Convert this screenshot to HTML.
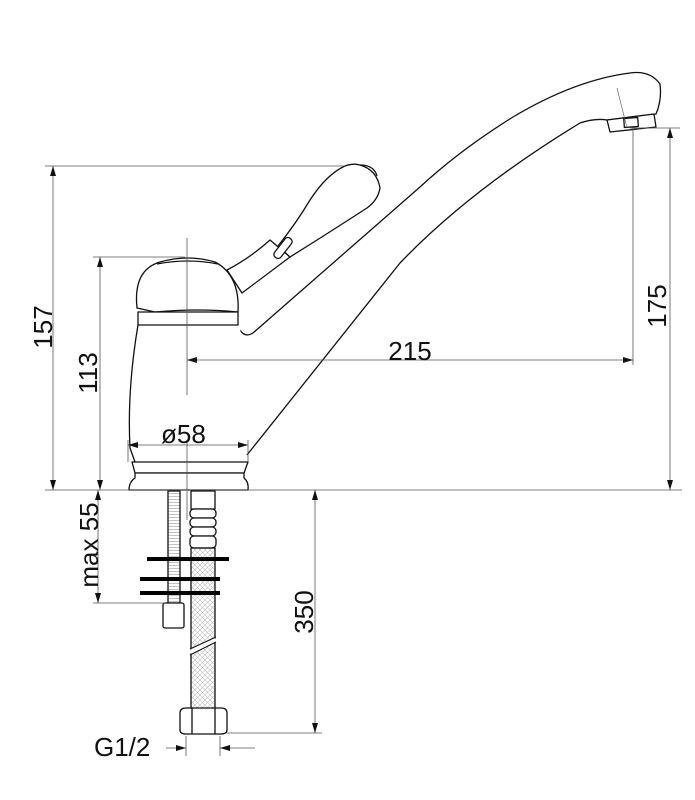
<!DOCTYPE html>
<html><head><meta charset="utf-8"><style>
html,body{margin:0;padding:0;background:#fff;}
svg{display:block;}
text{font-family:"Liberation Sans","DejaVu Sans",sans-serif;fill:#111;}
</style></head><body>
<svg width="695" height="800" viewBox="0 0 695 800" xmlns="http://www.w3.org/2000/svg">
<defs>
<marker id="a" viewBox="0 0 10 6" refX="10" refY="3" markerWidth="11" markerHeight="6" orient="auto-start-reverse" markerUnits="userSpaceOnUse">
<path d="M0,0 L10,3 L0,6 Z" fill="#111"/></marker>
<pattern id="x" width="5" height="5" patternUnits="userSpaceOnUse">
<path d="M0,0 L5,5 M5,0 L0,5" stroke="#bbb" stroke-width="0.6"/></pattern>
<pattern id="t" width="4" height="3" patternUnits="userSpaceOnUse">
<path d="M0,1.5 H4" stroke="#999" stroke-width="0.6"/></pattern>
</defs>
<g stroke="#111" stroke-width="1.3" fill="#fff" stroke-linejoin="round">
<path d="M247,455 L400,263 Q470,190 580,123 Q595,118 607,120 L656,114 Q662,100 660,84 Q650,70 630,73 Q575,80 513,117 Q460,150 420,187 L253,333 Q245,338 240,330" />
<path d="M607,120 L610,132 L656,127 L654,114 Z"/>
<rect x="624" y="118" width="14" height="9" transform="rotate(-4 631 122)"/>
<path d="M138,325 Q127,390 130,448 L135,462 L245,462 Q248,440 247,420 L240,325 Z" stroke="none"/>
<path d="M138,325 Q127,390 130,448 L135,462" fill="none"/>
<path d="M227,270 Q250,258 270,240 L290,257 Q262,278 242,293 Z"/>
<path d="M278,246 Q297,222 310,200 Q327,174 345,166 Q353,163 360,165 Q377,170 380,188 Q378,200 367,208 Q330,232 290,257 Z"/>
<path d="M360,165 Q374,165 377,176" fill="none"/>
<rect x="271" y="244" width="24" height="8" rx="3.5" transform="rotate(-52 283 248)"/>
<path d="M137,308 Q133,270 160,262 Q188,254 215,262 Q240,275 238,312 Q200,308 155,312 Z"/>
<path d="M157,264 Q188,258 218,264" fill="none"/>
<rect x="138" y="312" width="100" height="13"/>
<path d="M132,462 L248,462 L244,473 L135,473 Z"/>
<path d="M135,473 L244,473 L244,478 Q249,482 248,490 L129,490 Q129,482 135,478 Z"/>
<rect x="168" y="491" width="12" height="112" fill="url(#t)"/>
<rect x="163" y="603" width="21" height="25" rx="2"/>
<rect x="191" y="491" width="24" height="18"/>
<rect x="190" y="509" width="26" height="9" rx="4"/>
<rect x="190" y="518" width="26" height="9" rx="4"/>
<rect x="190" y="527" width="26" height="9" rx="4"/>
<rect x="190" y="536" width="26" height="12" rx="4"/>
<rect x="191" y="548" width="24" height="161" fill="url(#x)"/>
<path d="M190,652 L216,640" stroke="#fff" stroke-width="4"/>
<path d="M190,655 L216,642 M190,649 L216,637" stroke-width="1"/>
<path d="M180,713 Q180,708 186,708 L221,708 Q227,708 227,713 L227,730 Q227,734 221,734 L186,734 Q180,734 180,730 Z"/>
<line x1="192" y1="708" x2="192" y2="734"/><line x1="215" y1="708" x2="215" y2="734"/>
</g>
<g stroke="#000" stroke-width="4">
<line x1="147" y1="559" x2="229" y2="559"/>
<line x1="140" y1="579" x2="220" y2="579"/>
<line x1="140" y1="593" x2="220" y2="593"/>
</g>
<g stroke="#555" stroke-width="0.8" fill="none">
<line x1="45" y1="490" x2="682" y2="490"/>
<line x1="45" y1="166" x2="345" y2="166"/>
<line x1="93" y1="257" x2="185" y2="257"/>
<line x1="630" y1="128" x2="680" y2="128"/>
<line x1="633" y1="128" x2="633" y2="365"/>
<line x1="93" y1="603" x2="165" y2="603"/>
<line x1="225" y1="733" x2="322" y2="733"/>
<line x1="186" y1="736" x2="186" y2="756"/>
<line x1="220" y1="736" x2="220" y2="756"/>
<line x1="128" y1="440" x2="128" y2="462"/>
<line x1="248" y1="440" x2="248" y2="462"/>
<line x1="187" y1="238" x2="187" y2="395"/>
<line x1="187" y1="440" x2="187" y2="520"/>
<line x1="617" y1="88" x2="627" y2="128" stroke-width="0.6"/>
<line x1="53" y1="166" x2="53" y2="490" marker-start="url(#a)" marker-end="url(#a)"/>
<line x1="100" y1="257" x2="100" y2="490" marker-start="url(#a)" marker-end="url(#a)"/>
<line x1="670" y1="128" x2="670" y2="490" marker-start="url(#a)" marker-end="url(#a)"/>
<line x1="187" y1="360" x2="633" y2="360" marker-start="url(#a)" marker-end="url(#a)"/>
<line x1="128" y1="445" x2="248" y2="445" marker-start="url(#a)" marker-end="url(#a)"/>
<line x1="98" y1="490" x2="98" y2="603" marker-start="url(#a)" marker-end="url(#a)"/>
<line x1="315" y1="490" x2="315" y2="733" marker-start="url(#a)" marker-end="url(#a)"/>
<line x1="166" y1="748" x2="186" y2="748" marker-end="url(#a)"/>
<line x1="255" y1="748" x2="220" y2="748" marker-end="url(#a)"/>
</g>
<g font-size="26">
<text transform="translate(52,327) rotate(-90)" text-anchor="middle">157</text>
<text transform="translate(97,373) rotate(-90)" text-anchor="middle">113</text>
<text transform="translate(98,545) rotate(-90)" text-anchor="middle">max 55</text>
<text transform="translate(313,612) rotate(-90)" text-anchor="middle">350</text>
<text transform="translate(666,306) rotate(-90)" text-anchor="middle">175</text>
<text x="410" y="360" text-anchor="middle">215</text>
<text x="161" y="443">ø58</text>
<text x="94" y="756">G1/2</text>
</g>
</svg>
</body></html>
